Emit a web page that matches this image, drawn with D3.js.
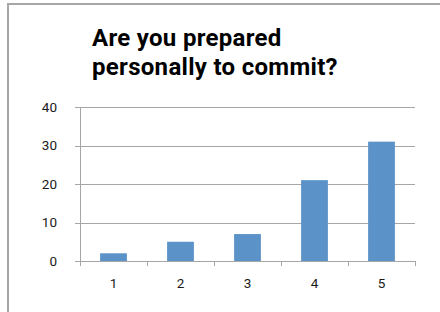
<!DOCTYPE html>
<html><head><meta charset="utf-8">
<script src="https://cdn.jsdelivr.net/npm/d3@7"></script>
<style>html,body{margin:0;padding:0;background:#fff;}svg{display:block;}</style>
</head><body>
<script>
const categories = ["1","2","3","4","5"];
const values = [2,5,7,21,31];
const yTicks = [0,10,20,30,40];
const titleLines = ["Are you prepared","personally to commit?"];

const W=440,H=312;
const svg=d3.select("body").append("svg").attr("width",W).attr("height",H);
svg.append("rect").attr("width",W).attr("height",H).attr("fill","#fff");
// frame (top and left visible)
svg.append("path").attr("d","M8,312V4H440").attr("fill","none").attr("stroke","#a6a6a6").attr("stroke-width",2);

const pLeft=80,pRight=415,pTop=107,pBottom=261;
const x=d3.scaleBand().domain(categories).range([pLeft,pRight]).paddingInner(0.6).paddingOuter(0.3);
const xb=d3.scaleBand().domain(categories).range([pLeft,pRight]);
const y=d3.scaleLinear().domain([0,40]).range([pBottom,pTop]);

// gridlines
svg.append("g").selectAll("line").data(yTicks).join("line")
  .attr("x1",pLeft-5).attr("x2",pRight).attr("y1",d=>Math.round(y(d))+0.5).attr("y2",d=>Math.round(y(d))+0.5)
  .attr("stroke","#a6a6a6").attr("stroke-width",1);
// y axis line
svg.append("line").attr("x1",pLeft+0.5).attr("x2",pLeft+0.5).attr("y1",pTop).attr("y2",pBottom).attr("stroke","#a6a6a6");
// x ticks at band boundaries
const bounds=categories.map(c=>xb(c)).concat([pRight]);
svg.append("g").selectAll("line").data(bounds).join("line")
  .attr("x1",d=>Math.round(d)+0.5).attr("x2",d=>Math.round(d)+0.5).attr("y1",pBottom).attr("y2",pBottom+5)
  .attr("stroke","#a6a6a6");

// bars
svg.append("g").selectAll("rect").data(values).join("rect")
  .attr("x",(d,i)=>x(categories[i])).attr("width",x.bandwidth())
  .attr("y",d=>y(d)).attr("height",d=>y(0)-y(d))
  .attr("fill","#5b93c8");

// y labels
svg.append("g").selectAll("text").data(yTicks).join("text")
  .attr("x",57).attr("y",d=>y(d)).attr("dy","0.36em").attr("text-anchor","end")
  .attr("font-family","Roboto, sans-serif").attr("font-size",13.5).attr("fill","#1a1a1a")
  .text(d=>d);
// x labels
svg.append("g").selectAll("text").data(categories).join("text")
  .attr("x",d=>xb(d)+xb.bandwidth()/2).attr("y",288).attr("text-anchor","middle")
  .attr("font-family","Roboto, sans-serif").attr("font-size",13.5).attr("fill","#1a1a1a")
  .text(d=>d);

// title
svg.append("g").selectAll("text").data(titleLines).join("text")
  .attr("x",92).attr("y",(d,i)=>46+i*28.5)
  .attr("font-family","Roboto, sans-serif").attr("font-weight","bold").attr("font-size",24).attr("fill","#000")
  .attr("letter-spacing",0.3)
  .text(d=>d);
</script>
</body></html>
